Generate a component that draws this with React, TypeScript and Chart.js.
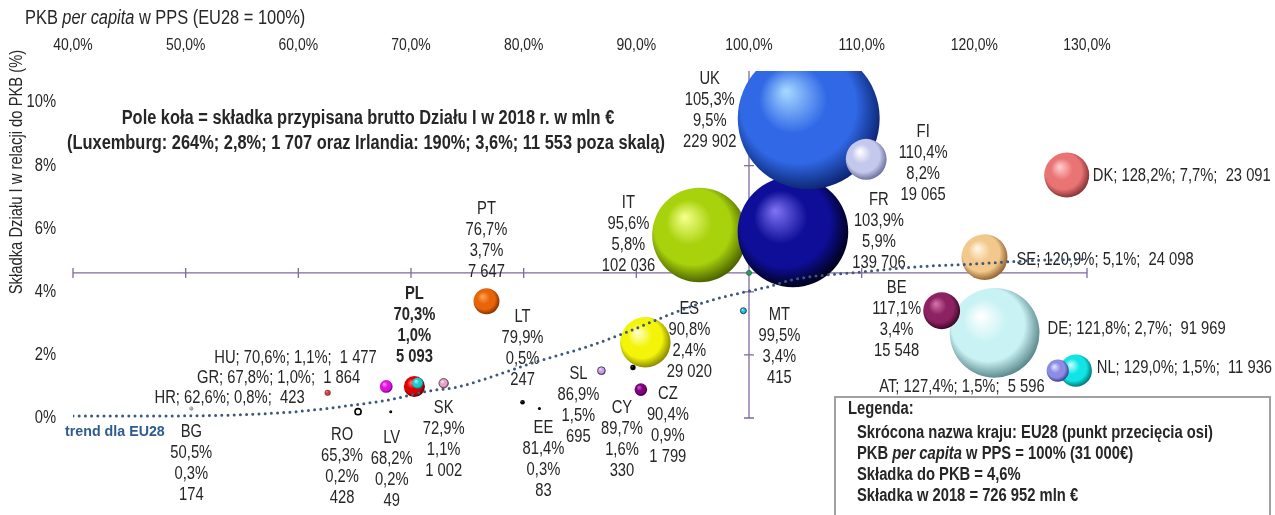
import React, { useEffect, useRef } from 'react';
import { Chart, registerables } from 'chart.js';
Chart.register(...registerables);

// ---------- DATA ----------
const countries = ['IT', 'FR', 'UK', 'FI', 'DE', 'BE', 'SE', 'DK', 'NL', 'AT', 'ES', 'PT', 'PL', 'HU', 'GR', 'SK', 'HR', 'CZ', 'SL', 'MT', 'CY', 'LT', 'RO', 'LV', 'EE', 'BG'];
const gdpPerCapita = [95.6, 103.9, 105.3, 110.4, 121.8, 117.1, 120.9, 128.2, 129.0, 127.4, 90.8, 76.7, 70.3, 70.6, 67.8, 72.9, 62.6, 90.4, 86.9, 99.5, 89.7, 79.9, 65.3, 68.2, 81.4, 50.5];
const premiumToGdp = [5.8, 5.9, 9.5, 8.2, 2.7, 3.4, 5.1, 7.7, 1.5, 1.5, 2.4, 3.7, 1.0, 1.1, 1.0, 1.1, 0.8, 0.9, 1.5, 3.4, 1.6, 0.5, 0.2, 0.2, 0.3, 0.3];
const premiumMlnEur = [102036, 139706, 229902, 19065, 91969, 15548, 24098, 23091, 11936, 5596, 29020, 7647, 5093, 1477, 1864, 1002, 423, 1799, 695, 415, 330, 247, 428, 49, 83, 174];

const eu28Gdp = 100;
const eu28Share = 4.6;

const trendX = [40, 50.5, 59.4, 65.3, 68.3, 71.3, 74.2, 77.1, 81.0, 86.0, 89.0, 92.0, 94.9, 97.9, 101.7, 103.8, 110.0, 114.4, 119.8, 125.7, 130.0];
const trendY = [0.06, 0.07, 0.19, 0.43, 0.59, 0.84, 0.99, 1.30, 1.77, 2.30, 2.70, 3.14, 3.54, 3.85, 4.16, 4.38, 4.63, 4.78, 4.88, 5.0, 5.03];

const xTicks = [40, 50, 60, 70, 80, 90, 100, 110, 120, 130];
const yTicks = [0, 2, 4, 6, 8, 10];

// ---------- STYLE ----------
const RADIUS_K = 0.148;
const palette: Record<string, [string, string, string]> = {
  IT: ['#F4FF8A', '#A8D20C', '#4A6000'],
  FR: ['#7C70F2', '#0E0E98', '#00001A'],
  UK: ['#A4D6FF', '#3068E6', '#0C2470'],
  FI: ['#FFFFFF', '#C4C8EC', '#6A6E9A'],
  DE: ['#FFFFFF', '#C8F2F4', '#5A868A'],
  BE: ['#D472AA', '#8C2262', '#3A0624'],
  SE: ['#FFF6E4', '#F2C88C', '#8E602C'],
  DK: ['#FFCCCC', '#EA7474', '#843030'],
  NL: ['#C8FFFF', '#10E4E4', '#007474'],
  AT: ['#E4E4FF', '#8C8CE4', '#3A3A88'],
  ES: ['#FFFFCC', '#F4F40A', '#868600'],
  PT: ['#FFA454', '#E86408', '#842E00'],
  PL: ['#FF7272', '#E00000', '#5C0000'],
  HU: ['#A8FFFF', '#20C8C8', '#006464'],
  GR: ['#FF94FF', '#E010E0', '#6C006C'],
  SK: ['#FFE4F2', '#E8A0C8', '#7C4C6C'],
  HR: ['#F48484', '#C04040', '#5C1C1C'],
  CZ: ['#C464C4', '#800080', '#2C002C'],
  SL: ['#F4DCFF', '#C8A0E8', '#684888'],
  MT: ['#A8FFFF', '#20C0E0', '#005C74'],
  CY: ['#505050', '#000000', '#000000'],
  LT: ['#505050', '#000000', '#000000'],
  RO: ['#FFFFFF', '#FFFFFF', '#DDDDDD'],
  LV: ['#505050', '#000000', '#000000'],
  EE: ['#505050', '#000000', '#000000'],
  BG: ['#E4E4E4', '#A4A4A4', '#5E5E5E'],
};
const borders: Record<string, [string, number]> = {
  RO: ['#000000', 1.6],
  SL: ['#3A2A4A', 0.8],
  MT: ['#1A3A4A', 0.8],
  SK: ['#4A2A3A', 0.8],
};

type Lay = { mode: 'stack' | 'left' | 'right'; dx: number; dy: number; bold?: boolean };
const labelLayout: Record<string, Lay> = {
  UK: { mode: 'stack', dx: -99, dy: -39 },
  FI: { mode: 'stack', dx: 57, dy: -27 },
  FR: { mode: 'stack', dx: 86, dy: -32 },
  IT: { mode: 'stack', dx: -71, dy: -32 },
  PT: { mode: 'stack', dx: 0, dy: -92 },
  PL: { mode: 'stack', dx: 0, dy: -92, bold: true },
  LT: { mode: 'stack', dx: 0, dy: -85 },
  ES: { mode: 'stack', dx: 44, dy: -33 },
  MT: { mode: 'stack', dx: 36, dy: 4 },
  SL: { mode: 'stack', dx: -23, dy: 3 },
  CY: { mode: 'stack', dx: -11, dy: 41 },
  CZ: { mode: 'stack', dx: 27, dy: 4 },
  EE: { mode: 'stack', dx: 4, dy: 19 },
  BG: { mode: 'stack', dx: 0, dy: 23 },
  RO: { mode: 'stack', dx: -16, dy: 23 },
  LV: { mode: 'stack', dx: 1, dy: 26 },
  SK: { mode: 'stack', dx: 0, dy: 25 },
  BE: { mode: 'stack', dx: -45, dy: -23 },
  HU: { mode: 'right', dx: -41, dy: -25 },
  GR: { mode: 'right', dx: -26, dy: -8 },
  HR: { mode: 'right', dx: -23, dy: 5 },
  DK: { mode: 'left', dx: 26, dy: 1 },
  SE: { mode: 'left', dx: 32, dy: 3 },
  DE: { mode: 'left', dx: 53, dy: -4 },
  NL: { mode: 'left', dx: 21, dy: -3 },
  AT: { mode: 'right', dx: -13, dy: 16 },
};

const FONT = '"Liberation Sans", Arial, sans-serif';
const NARROW = 0.82;
const TEXT = '#262626';

const pct = (v: number) => v.toFixed(1).replace('.', ',') + '%';
const thousands = (v: number) => String(v).replace(/\B(?=(\d{3})+(?!\d))/g, ' ');
const radiusOf = (i: number) => Math.max(1.5, RADIUS_K * Math.sqrt(premiumMlnEur[i]));

type Run = { t: string; italic?: boolean };
function drawRuns(ctx: CanvasRenderingContext2D, runs: Run[], x: number, y: number, size: number, bold: boolean, align: 'left' | 'right' | 'center', color: string, sx = NARROW, family = FONT) {
  const fontFor = (it?: boolean) => `${it ? 'italic ' : ''}${bold ? 'bold ' : ''}${size}px ${family}`;
  const widths = runs.map((r) => { ctx.font = fontFor(r.italic); return ctx.measureText(r.t).width * sx; });
  const total = widths.reduce((a, b) => a + b, 0);
  let start = align === 'left' ? x : align === 'right' ? x - total : x - total / 2;
  ctx.save();
  ctx.fillStyle = color;
  ctx.textBaseline = 'middle';
  ctx.textAlign = 'left';
  runs.forEach((r, i) => {
    ctx.save();
    ctx.translate(start, y);
    ctx.scale(sx, 1);
    ctx.font = fontFor(r.italic);
    ctx.fillText(r.t, 0, 0);
    ctx.restore();
    start += widths[i];
  });
  ctx.restore();
}

const AXIS_COLOR = '#7F6A9F';

const crossAxesPlugin = {
  id: 'crossAxes',
  beforeDatasetsDraw(chart: any) {
    const { ctx, scales } = chart;
    const xs = scales.x, ys = scales.y;
    const yAx = ys.getPixelForValue(eu28Share);
    const xAx = xs.getPixelForValue(eu28Gdp);
    ctx.save();
    ctx.strokeStyle = AXIS_COLOR;
    ctx.lineWidth = 1.3;
    ctx.beginPath();
    ctx.moveTo(xs.getPixelForValue(xTicks[0]), yAx);
    ctx.lineTo(xs.getPixelForValue(xTicks[xTicks.length - 1]), yAx);
    xTicks.forEach((v) => {
      const px = xs.getPixelForValue(v);
      ctx.moveTo(px, yAx - 5);
      ctx.lineTo(px, yAx + 5);
    });
    ctx.moveTo(xAx, ys.getPixelForValue(0));
    ctx.lineTo(xAx, chart.chartArea.top);
    yTicks.forEach((v) => {
      const py = ys.getPixelForValue(v);
      ctx.moveTo(xAx - 5, py);
      ctx.lineTo(xAx + 5, py);
    });
    ctx.stroke();
    ctx.restore();
  },
};

const labelsPlugin = {
  id: 'bubbleLabels',
  afterDatasetDraw(chart: any, args: any) {
    if (args.index !== 0) return;
    const { ctx, scales } = chart;
    countries.forEach((c, i) => {
      const lay = labelLayout[c];
      if (!lay) return;
      const px = scales.x.getPixelForValue(gdpPerCapita[i]);
      const py = scales.y.getPixelForValue(premiumToGdp[i]);
      if (lay.mode === 'stack') {
        const lines = [c, pct(gdpPerCapita[i]), pct(premiumToGdp[i]), thousands(premiumMlnEur[i])];
        lines.forEach((t, k) => drawRuns(ctx, [{ t }], px + lay.dx, py + lay.dy + k * 21, 18, !!lay.bold, 'center', TEXT));
      } else {
        const t = `${c}; ${pct(gdpPerCapita[i])}; ${pct(premiumToGdp[i])};  ${thousands(premiumMlnEur[i])}`;
        drawRuns(ctx, [{ t }], px + lay.dx, py + lay.dy, 18, false, lay.mode, TEXT);
      }
    });
  },
};

const decorPlugin = {
  id: 'decor',
  afterDraw(chart: any) {
    const { ctx, scales } = chart;
    xTicks.forEach((v) => {
      drawRuns(ctx, [{ t: v.toFixed(1).replace('.', ',') + '%' }], scales.x.getPixelForValue(v), 45, 17, false, 'center', TEXT);
    });
    yTicks.forEach((v) => {
      drawRuns(ctx, [{ t: v + '%' }], 56, scales.y.getPixelForValue(v), 18, false, 'right', TEXT);
    });
    drawRuns(ctx, [{ t: 'PKB ' }, { t: 'per capita', italic: true }, { t: ' w PPS (EU28 = 100%)' }], 25, 18, 20, false, 'left', TEXT);
    ctx.save();
    ctx.translate(17, 172);
    ctx.rotate(-Math.PI / 2);
    drawRuns(ctx, [{ t: 'Składka Działu I w relacji do PKB (%)' }], 0, 0, 18, false, 'center', TEXT);
    ctx.restore();
    drawRuns(ctx, [{ t: 'Pole koła = składka przypisana brutto Działu I w 2018 r. w mln €' }], 368, 118, 20, true, 'center', TEXT);
    drawRuns(ctx, [{ t: '(Luxemburg: 264%; 2,8%; 1 707 oraz Irlandia: 190%; 3,6%; 11 553 poza skalą)' }], 366, 143, 20, true, 'center', TEXT);
    drawRuns(ctx, [{ t: 'trend dla EU28' }], 65, 432, 15, true, 'left', '#2E5B8E', 0.95);
    ctx.save();
    ctx.fillStyle = '#FFFFFF';
    ctx.fillRect(835, 397, 435, 130);
    ctx.strokeStyle = '#A0A0A0';
    ctx.lineWidth = 2;
    ctx.strokeRect(835, 397, 435, 130);
    ctx.restore();
    drawRuns(ctx, [{ t: 'Legenda:' }], 848, 409, 18, true, 'left', TEXT);
    drawRuns(ctx, [{ t: 'Skrócona nazwa kraju: EU28 (punkt przecięcia osi)' }], 857, 433, 18, true, 'left', TEXT);
    drawRuns(ctx, [{ t: 'PKB ' }, { t: 'per capita', italic: true }, { t: ' w PPS = 100% (31 000€)' }], 857, 454, 18, true, 'left', TEXT);
    drawRuns(ctx, [{ t: 'Składka do PKB = 4,6%' }], 857, 475, 18, true, 'left', TEXT);
    drawRuns(ctx, [{ t: 'Składka w 2018 = 726 952 mln €' }], 857, 496, 18, true, 'left', TEXT);
  },
};

function sphereFill(c: any) {
  const i = c.dataIndex;
  const code = countries[i];
  const pal = palette[code] || ['#fff', '#888', '#000'];
  const chart = c.chart;
  const xs = chart.scales?.x, ys = chart.scales?.y;
  if (c.type !== 'data' || !xs || !ys) return pal[1];
  const cx = xs.getPixelForValue(gdpPerCapita[i]);
  const cy = ys.getPixelForValue(premiumToGdp[i]);
  const r = radiusOf(i);
  if (!Number.isFinite(cx) || !Number.isFinite(cy)) return pal[1];
  const g = chart.ctx.createRadialGradient(cx - r * 0.32, cy - r * 0.38, r * 0.02, cx - r * 0.08, cy - r * 0.1, r * 1.12);
  g.addColorStop(0, pal[0]);
  g.addColorStop(0.42, pal[1]);
  g.addColorStop(0.72, pal[1]);
  g.addColorStop(1, pal[2]);
  return g;
}

export default function App() {
  const ref = useRef<HTMLCanvasElement | null>(null);
  useEffect(() => {
    if (!ref.current) return;
    const chart = new Chart(ref.current, {
      type: 'bubble',
      data: {
        datasets: [
          {
            type: 'bubble',
            label: 'Kraje',
            order: 2,
            clip: { left: 10, right: 10, top: 0, bottom: 10 } as any,
            data: countries.map((_, i) => ({ x: gdpPerCapita[i], y: premiumToGdp[i], r: radiusOf(i) })),
            backgroundColor: sphereFill as any,
            borderColor: (c: any) => (borders[countries[c.dataIndex]]?.[0] ?? 'rgba(0,0,0,0)'),
            borderWidth: (c: any) => (borders[countries[c.dataIndex]]?.[1] ?? 0),
          } as any,
          {
            type: 'scatter',
            label: 'EU28',
            order: 1,
            data: [{ x: eu28Gdp, y: eu28Share }],
            pointRadius: 2.5,
            backgroundColor: '#2E9A62',
            borderColor: '#1C6A40',
            borderWidth: 0.8,
          } as any,
          {
            type: 'line',
            label: 'trend dla EU28',
            order: 0,
            data: trendX.map((x, i) => ({ x, y: trendY[i] })),
            borderColor: '#3E5878',
            borderWidth: 3,
            borderDash: [0, 6.2],
            borderCapStyle: 'round',
            pointRadius: 0,
            fill: false,
            tension: 0.4,
            cubicInterpolationMode: 'monotone',
          } as any,
        ],
      },
      options: {
        responsive: false,
        devicePixelRatio: 1,
        animation: false,
        events: [],
        layout: { padding: { left: 73, right: 188, top: 64, bottom: 97 } },
        scales: {
          x: { type: 'linear', min: 40, max: 130, display: false },
          y: { type: 'linear', min: 0, max: 11, display: false },
        },
        plugins: {
          legend: { display: false },
          tooltip: { enabled: false },
        },
      },
      plugins: [crossAxesPlugin, labelsPlugin, decorPlugin],
    });
    return () => chart.destroy();
  }, []);
  return (
    <div style={{ position: 'fixed', left: 0, top: 0, width: 1275, height: 515, background: '#fff' }}>
      <canvas ref={ref} width={1275} height={515} style={{ display: 'block' }} />
    </div>
  );
}
